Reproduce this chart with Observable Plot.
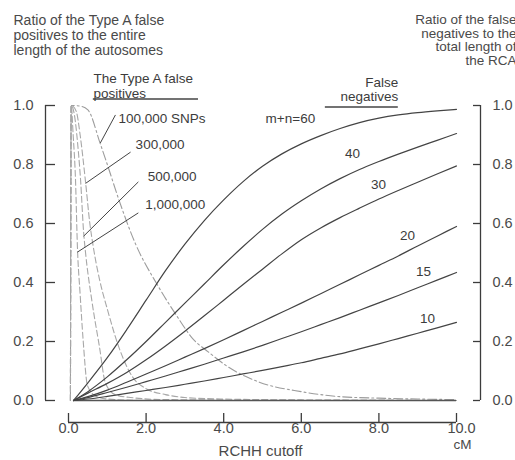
<!DOCTYPE html>
<html><head><meta charset="utf-8">
<script src="https://cdn.jsdelivr.net/npm/d3@7"></script>
<script src="https://cdn.jsdelivr.net/npm/@observablehq/plot@0.6"></script>
<style>body{margin:0;background:#fff;}</style>
</head><body><div id="chart"></div>
<script>
// RCHH cutoff (cM) for the false-negative curves
const cutoff = [0.13, 0.5, 1, 1.5, 2, 2.5, 3, 3.5, 4, 4.5, 5, 5.5, 6, 6.5, 7, 7.5, 8, 8.5, 9, 9.5, 10];
// Ratio of false negatives, by m+n
const fn60 = [0, 0.06, 0.145, 0.24, 0.34, 0.44, 0.53, 0.61, 0.68, 0.742, 0.794, 0.836, 0.87, 0.898, 0.922, 0.942, 0.957, 0.968, 0.976, 0.982, 0.987];
const fn40 = [0, 0.03, 0.08, 0.138, 0.2, 0.265, 0.33, 0.395, 0.46, 0.522, 0.58, 0.632, 0.677, 0.717, 0.752, 0.783, 0.81, 0.835, 0.859, 0.882, 0.905];
const fn30 = [0, 0.025, 0.058, 0.095, 0.138, 0.185, 0.235, 0.287, 0.34, 0.393, 0.445, 0.497, 0.545, 0.585, 0.62, 0.652, 0.683, 0.712, 0.74, 0.768, 0.795];
const fn20 = [0, 0.013, 0.035, 0.062, 0.09, 0.118, 0.147, 0.176, 0.206, 0.237, 0.268, 0.299, 0.33, 0.362, 0.394, 0.426, 0.458, 0.49, 0.524, 0.557, 0.59];
const fn15 = [0, 0.01, 0.027, 0.045, 0.064, 0.083, 0.103, 0.123, 0.144, 0.165, 0.187, 0.21, 0.233, 0.257, 0.281, 0.306, 0.331, 0.356, 0.382, 0.408, 0.434];
const fn10 = [0, 0.005, 0.014, 0.024, 0.034, 0.044, 0.055, 0.066, 0.078, 0.09, 0.102, 0.115, 0.128, 0.143, 0.158, 0.175, 0.192, 0.21, 0.228, 0.246, 0.265];
const fnLabels = ["m+n=60", "40", "30", "20", "15", "10"];

// Type A false positives, by number of SNPs
const fp100kX = [0.05, 0.07, 0.3, 0.5, 0.82, 1.0, 1.3, 1.73, 2.3, 2.8, 3.2, 3.6, 4.1, 4.9, 6.0, 7.0, 8.0, 9.0, 10];
const fp100kY = [0, 1.0, 0.998, 0.985, 0.87, 0.8, 0.68, 0.53, 0.39, 0.285, 0.21, 0.165, 0.115, 0.063, 0.03, 0.013, 0.008, 0.005, 0.003];
const fp300kX = [0.05, 0.07, 0.2, 0.3, 0.44, 0.55, 0.64, 0.8, 1.0, 1.3, 1.65, 2.0, 2.5, 3, 4, 6, 10];
const fp300kY = [0, 1.0, 0.98, 0.9, 0.74, 0.6, 0.52, 0.41, 0.31, 0.18, 0.08, 0.04, 0.02, 0.01, 0.005, 0.002, 0];
const fp500kX = [0.05, 0.07, 0.15, 0.25, 0.31, 0.39, 0.44, 0.6, 0.8, 0.95, 1.2, 1.6, 2.5, 10];
const fp500kY = [0, 1.0, 0.97, 0.85, 0.75, 0.57, 0.5, 0.34, 0.18, 0.06, 0.02, 0.01, 0.003, 0];
const fp1mX = [0.05, 0.07, 0.12, 0.18, 0.23, 0.3, 0.38, 0.49, 0.7, 1.0, 2, 10];
const fp1mY = [0, 1.0, 0.9, 0.75, 0.52, 0.36, 0.2, 0.05, 0.015, 0.005, 0, 0];
const fpLabels = ["100,000 SNPs", "300,000", "500,000", "1,000,000"];

const xTicks = [0, 2, 4, 6, 8, 10];
const yTicks = [0, 0.2, 0.4, 0.6, 0.8, 1.0];

const fnSeries = [fn60, fn40, fn30, fn20, fn15, fn10];
const fnRows = fnSeries.flatMap((ys, k) => cutoff.map((x, i) => ({m: fnLabels[k], x, y: ys[i]})));
const fpSets = [[fp100kX, fp100kY], [fp300kX, fp300kY], [fp500kX, fp500kY], [fp1mX, fp1mY]];
const fpRows = fpSets.flatMap(([xs, ys], k) => xs.map((x, i) => ({s: fpLabels[k], x, y: ys[i]})));

const fmt = d3.format(".1f");
const ink = "#3c3c3c";
const txt = "#4a4a4a";
const fs = 13.5;

const chart = Plot.plot({
  width: 515, height: 460,
  marginLeft: 68, marginRight: 59, marginTop: 105, marginBottom: 60,
  x: {domain: [0, 10], axis: null},
  y: {domain: [0, 1], axis: null},
  style: {fontFamily: "'Liberation Sans', Arial, Helvetica, sans-serif", background: "#fff", color: ink, overflow: "visible"},
  marks: [
    // false positive curves
    Plot.line(fpRows.filter(d => d.s === fpLabels[0]), {x: "x", y: "y", stroke: "#9c9c9c", strokeWidth: 1.1, strokeDasharray: "9,3,2,3", curve: "monotone-x"}),
    Plot.line(fpRows.filter(d => d.s !== fpLabels[0]), {x: "x", y: "y", z: "s", stroke: "#a8a8a8", strokeWidth: 1.1, strokeDasharray: "6,3", curve: "monotone-x"}),
    // baseline where curves meet zero
    Plot.ruleY([0], {x1: cutoff[0], x2: cutoff[cutoff.length - 1], stroke: "#555", strokeWidth: 1.3}),
    // false negative curves
    Plot.line(fnRows, {x: "x", y: "y", z: "m", stroke: "#444", strokeWidth: 1.2, curve: "monotone-x"}),
    // false negative labels
    Plot.text([fnLabels[0]], {x: 5.08, y: 0.954, text: d => d, textAnchor: "start", fontSize: fs, fill: ink}),
    Plot.text(fnLabels.slice(1), {x: [7.32, 7.99, 8.74, 9.15, 9.25], y: [0.836, 0.73, 0.56, 0.436, 0.276], text: d => d, fontSize: fs, fill: ink}),
    // false positive labels and leaders
    Plot.text(fpLabels, {x: [1.29, 1.73, 2.04, 1.98], y: [0.957, 0.866, 0.758, 0.663], text: d => d, textAnchor: "start", fontSize: fs, fill: ink}),
    Plot.link([
      {x1: 1.21, y1: 0.968, x2: 0.82, y2: 0.873},
      {x1: 1.6, y1: 0.842, x2: 0.44, y2: 0.736},
      {x1: 1.8, y1: 0.741, x2: 0.39, y2: 0.557},
      {x1: 1.8, y1: 0.636, x2: 0.23, y2: 0.503}
    ], {x1: "x1", y1: "y1", x2: "x2", y2: "y2", stroke: "#444", strokeWidth: 1}),
    // group headings
    Plot.text(["The Type A false\npositives"], {frameAnchor: "top-left", dx: 25, dy: -33, textAnchor: "start", lineAnchor: "top", lineHeight: 1.12, fontSize: fs, fill: ink}),
    Plot.ruleY([1], {x1: 0.64, x2: 3.35, dy: -6.5, stroke: "#444", strokeWidth: 1.3}),
    Plot.text(["False\nnegatives"], {x: 8.5, frameAnchor: "top", dy: -29, textAnchor: "end", lineAnchor: "top", lineHeight: 1.05, fontSize: fs, fill: ink}),
    Plot.ruleY([1], {x1: 6.62, x2: 8.5, dy: 1.5, stroke: "#444", strokeWidth: 1.3}),
    // left axis
    Plot.ruleX([xTicks[0]], {y1: yTicks[0], y2: yTicks[yTicks.length - 1], dx: -23, stroke: ink, strokeWidth: 1.3}),
    Plot.tickY(yTicks, {y: d => d, dx: -23, insetRight: 378, stroke: ink, strokeWidth: 1.3}),
    Plot.text(yTicks, {y: d => d, text: fmt, frameAnchor: "left", textAnchor: "end", dx: -35, fontSize: 14.5, fill: txt}),
    // right axis
    Plot.ruleX([xTicks[xTicks.length - 1]], {y1: yTicks[0], y2: yTicks[yTicks.length - 1], dx: 24, stroke: ink, strokeWidth: 1.3}),
    Plot.tickY(yTicks, {y: d => d, dx: 24, insetLeft: 381, stroke: ink, strokeWidth: 1.3}),
    Plot.text(yTicks, {y: d => d, text: fmt, frameAnchor: "right", textAnchor: "start", dx: 36, fontSize: 14.5, fill: txt}),
    // bottom axis
    Plot.ruleY([yTicks[0]], {x1: xTicks[0], x2: xTicks[xTicks.length - 1], dy: 22, stroke: ink, strokeWidth: 1.3}),
    Plot.tickX(xTicks, {x: d => d, dy: 22, insetTop: 286, stroke: ink, strokeWidth: 1.3}),
    Plot.text(xTicks.slice(0, -1), {x: d => d, text: fmt, frameAnchor: "bottom", dy: 32, fontSize: 14.5, fill: txt}),
    Plot.text(xTicks.slice(-1), {x: d => d, text: fmt, frameAnchor: "bottom", dx: 5, dy: 32, fontSize: 14.5, fill: txt}),
    Plot.text(["cM"], {x: xTicks[xTicks.length - 1], frameAnchor: "bottom", dx: 6, dy: 48, fontSize: 13.5, fill: txt}),
    Plot.text(["RCHH cutoff"], {x: 4.95, frameAnchor: "bottom", dy: 55, fontSize: 15, fill: txt}),
    // axis titles
    Plot.text(["Ratio of the Type A false\npositives to the entire\nlength of the autosomes"], {frameAnchor: "top-left", dx: -55, dy: -91, textAnchor: "start", lineAnchor: "top", lineHeight: 1.07, fontSize: 14, fill: txt}),
    Plot.text(["Ratio of the false\nnegatives to the\ntotal length of\nthe RCA"], {frameAnchor: "top-right", dx: 60, dy: -91, textAnchor: "end", lineAnchor: "top", lineHeight: 1.0, fontSize: 13.5, fill: txt})
  ]
});
document.getElementById("chart").append(chart);
</script>
</body></html>
